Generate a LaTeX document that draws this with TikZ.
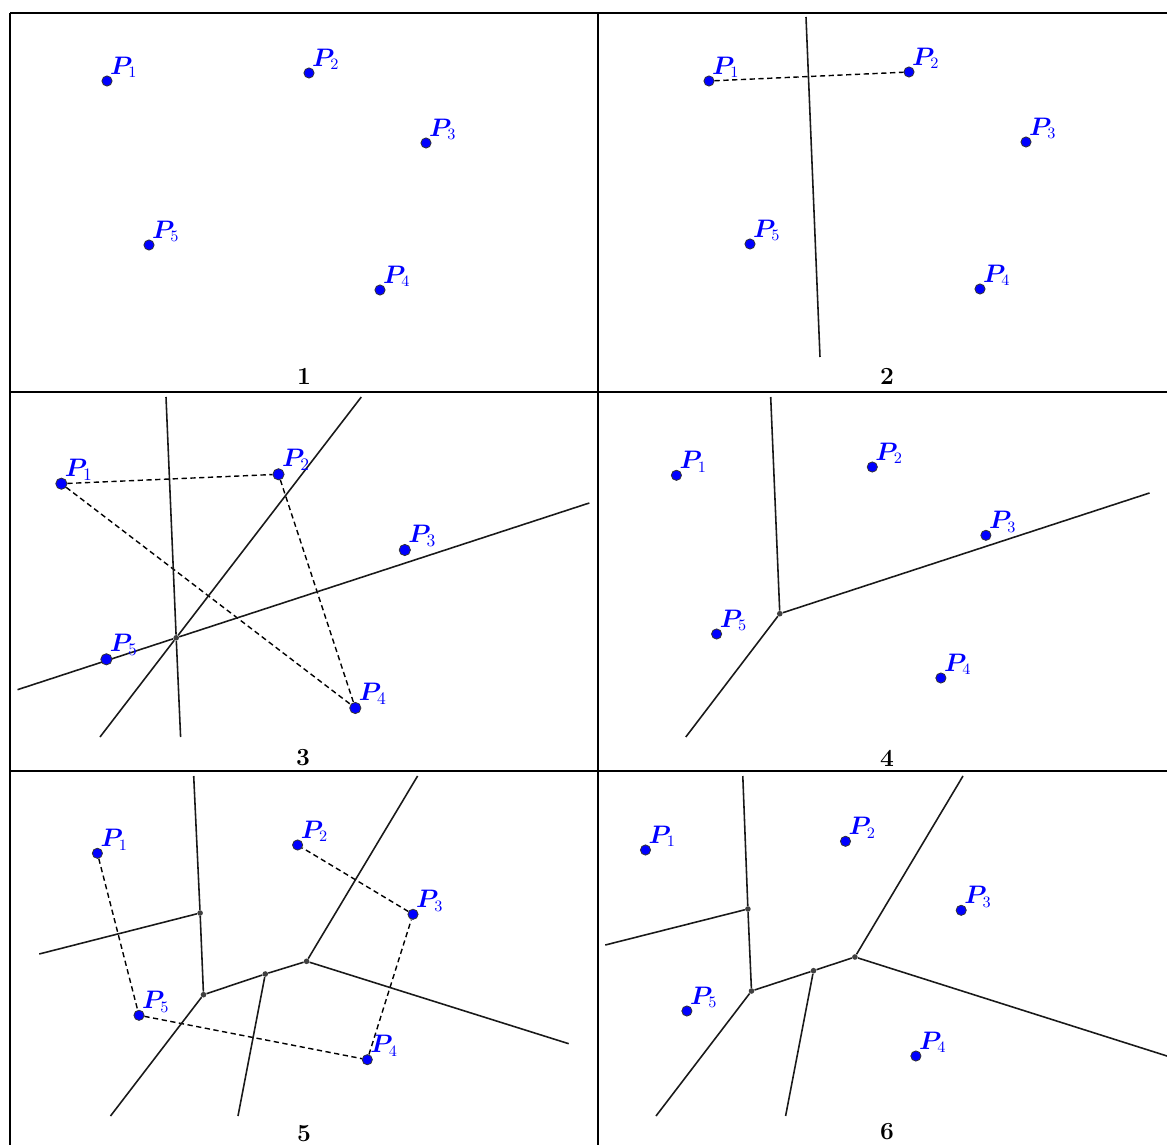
\documentclass[tikz,border=0pt]{standalone}
\usepackage{amsmath,amssymb}
\usepackage{bm}
\usepackage{tikz}

\pgfdeclarelayer{bg}
\pgfsetlayers{bg,main}

\tikzset{
  site/.style={circle, fill=blue, draw=black!80, line width=0.45pt, inner sep=0pt, minimum size=5.8pt},
  lab/.style={anchor=south west, inner sep=0pt, xshift=-0.6pt, yshift=-0.6pt, text=blue, font=\fontsize{13.5}{15}\selectfont},
  vert/.style={circle, fill=black!75, inner sep=0pt, minimum size=3.2pt},
  edge/.style={line width=0.9pt, black!90},
  link/.style={line width=0.8pt, dash pattern=on 3pt off 2pt},
  frame/.style={line width=1.3pt},
  num/.style={font=\fontsize{14}{16}\selectfont\bfseries}
}

% a site: dot and its label
\newcommand{\site}[3]{\node[site] (#1) at (#2) {}; \node[lab] (#1l) at (#1.north east) {$\bm{P}_{#3}$};}

\begin{document}
\begin{tikzpicture}[x=0.02cm, y=-0.02cm]
    \useasboundingbox (0,0) rectangle (1167,1145);

    % frame
    \draw[frame] (10,13) -- (1167,13);
    \draw[frame] (10,13) -- (10,1145);
    \draw[frame] (598,13) -- (598,1145);
    \draw[frame] (10,392) -- (1167,392);
    \draw[frame] (10,771) -- (1167,771);

    % 1
    \site{a1}{107,81}{1}
    \site{a2}{309,73}{2}
    \site{a3}{426,143}{3}
    \site{a4}{380,290}{4}
    \site{a5}{149,245}{5}
    \node[num] (n1) at (304,376) {1};

    % 2
    \site{b1}{709,81}{1}
    \site{b2}{909,72}{2}
    \site{b3}{1026,142}{3}
    \site{b4}{980,289}{4}
    \site{b5}{750,244}{5}
    \coordinate (b12t) at (806,17);
    \coordinate (b12b) at (820,357);
    \node[num] (n2) at (887,376) {2};
    \begin{pgfonlayer}{bg}
      \draw[link] (b1) -- (b2);
      \draw[edge] (b12t) -- (b12b);
    \end{pgfonlayer}

    % 3
    \begin{scope}[lab/.append style={font=\fontsize{14.5}{16}\selectfont}, site/.append style={minimum size=6.4pt}]
      \site{c1}{61.4,483.7}{1}
      \site{c2}{278.5,474.3}{2}
      \site{c3}{404.8,550}{3}
      \site{c4}{355.3,708}{4}
      \site{c5}{106.4,659.3}{5}
    \end{scope}
    \node[vert] (c0) at (176.2,637.8) {};
    \coordinate (c12t) at (166,397);
    \coordinate (c12b) at (180.6,737);
    \coordinate (c14t) at (361.3,397);
    \coordinate (c14b) at (100,737);
    \coordinate (c24l) at (17.5,689.7);
    \coordinate (c24r) at (589.3,503);
    \node[num] (n3) at (303,758) {3};
    \begin{pgfonlayer}{bg}
      \draw[link] (c1) -- (c2);
      \draw[link] (c1) -- (c4);
      \draw[link] (c2) -- (c4);
      \draw[edge] (c12t) -- (c0) -- (c12b);
      \draw[edge] (c14t) -- (c0) -- (c14b);
      \draw[edge] (c24l) -- (c0) -- (c24r);
    \end{pgfonlayer}

    % 4
    \site{d1}{676.4,475.3}{1}
    \site{d2}{872.3,467}{2}
    \site{d3}{985.9,535.3}{3}
    \site{d4}{940.9,678}{4}
    \site{d5}{716.6,634}{5}
    \node[vert] (d0) at (779.8,613.7) {};
    \coordinate (d0t) at (770.7,397);
    \coordinate (d0r) at (1149.5,493);
    \coordinate (d0b) at (685.8,737);
    \node[num] (n4) at (887,758) {4};
    \begin{pgfonlayer}{bg}
      \draw[edge] (d0t) -- (d0);
      \draw[edge] (d0) -- (d0r);
      \draw[edge] (d0) -- (d0b);
    \end{pgfonlayer}

    % 5
    \site{e1}{97.4,853.3}{1}
    \site{e2}{297.6,845}{2}
    \site{e3}{413,914.3}{3}
    \site{e4}{367.3,1059.7}{4}
    \site{e5}{139,1015.3}{5}
    \node[vert] (eA) at (200.1,913) {};
    \node[vert] (eB) at (203.5,994.7) {};
    \node[vert] (eC) at (265.3,974) {};
    \node[vert] (eD) at (306.6,961.3) {};
    \coordinate (eAt) at (193.7,776);
    \coordinate (eAl) at (39.2,954);
    \coordinate (eDt) at (417.6,776);
    \coordinate (eDr) at (568.7,1043.7);
    \coordinate (eBb) at (110.5,1116);
    \coordinate (eCb) at (238,1116);
    \node[num] (n5) at (304,1134) {5};
    \begin{pgfonlayer}{bg}
      \draw[link] (e1) -- (e5);
      \draw[link] (e5) -- (e4);
      \draw[link] (e4) -- (e3);
      \draw[link] (e3) -- (e2);
      \draw[edge] (eAt) -- (eA) -- (eB) -- (eC) -- (eD) -- (eDr);
      \draw[edge] (eAl) -- (eA);
      \draw[edge] (eD) -- (eDt);
      \draw[edge] (eB) -- (eBb);
      \draw[edge] (eC) -- (eCb);
    \end{pgfonlayer}

    % 6
    \site{f1}{645.5,850}{1}
    \site{f2}{845.5,841.3}{2}
    \site{f3}{961.2,910.3}{3}
    \site{f4}{915.9,1056}{4}
    \site{f5}{686.9,1011}{5}
    \node[vert] (fA) at (747.9,909) {};
    \node[vert] (fB) at (751.5,991) {};
    \node[vert] (fC) at (813.5,970.7) {};
    \node[vert] (fD) at (854.9,957) {};
    \coordinate (fAt) at (742.8,776);
    \coordinate (fAl) at (605.3,945);
    \coordinate (fDt) at (963,776);
    \coordinate (fDr) at (1167,1056);
    \coordinate (fBb) at (656,1116);
    \coordinate (fCb) at (785.6,1116);
    \node[num] (n6) at (887,1132) {6};
    \begin{pgfonlayer}{bg}
      \draw[edge] (fAt) -- (fA) -- (fB) -- (fC) -- (fD) -- (fDr);
      \draw[edge] (fAl) -- (fA);
      \draw[edge] (fD) -- (fDt);
      \draw[edge] (fB) -- (fBb);
      \draw[edge] (fC) -- (fCb);
    \end{pgfonlayer}
\end{tikzpicture}
\end{document}
